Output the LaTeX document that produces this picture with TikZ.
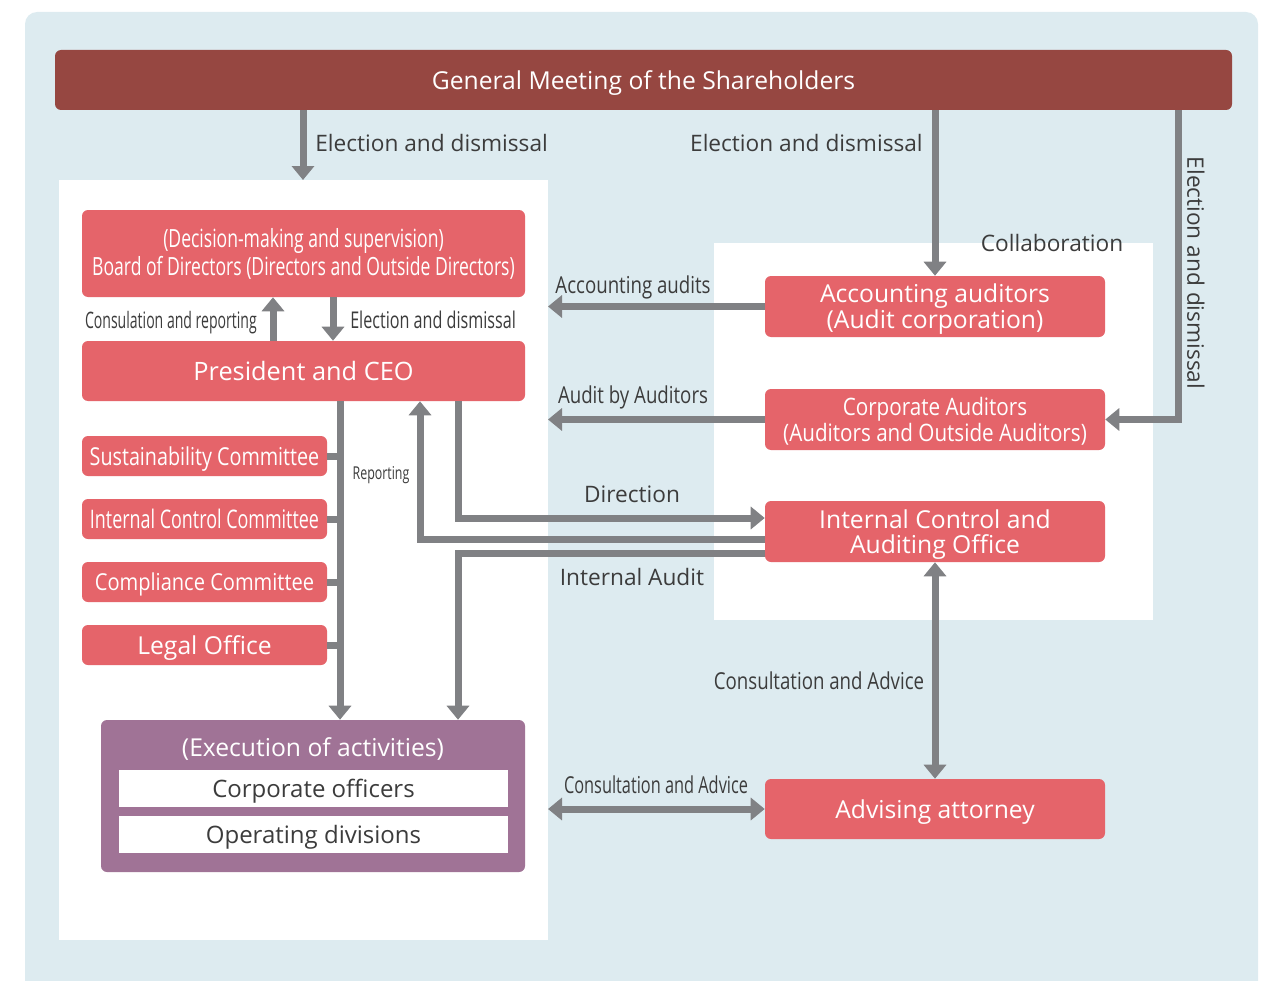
\documentclass[tikz,border=0pt]{standalone}
\usepackage{fontspec}
\setmainfont{Open Sans}
\newfontfamily\narrowfont{Open Sans}[FakeStretch=0.8]
\newfontfamily\midfont{Open Sans}[FakeStretch=0.86]
\newfontfamily\tightfont{Open Sans}[FakeStretch=0.7]
\newfontfamily\condfont{Open Sans}[FakeStretch=0.62]
\usetikzlibrary{arrows.meta}

\definecolor{bgblue}{RGB}{221,235,240}
\definecolor{gmred}{RGB}{150,71,65}
\definecolor{boxred}{RGB}{229,100,106}
\definecolor{execpurple}{RGB}{160,115,150}
\definecolor{arrowgray}{RGB}{128,129,132}
\definecolor{labelgray}{RGB}{60,60,60}

\begin{document}
\begin{tikzpicture}[x=0.75pt,y=0.75pt,yscale=-1,xscale=1,
  redbox/.style={fill=boxred,rounded corners=4.5pt,text=white,inner sep=0pt,align=center,text depth=0pt,
    minimum width=255pt,minimum height=45.75pt,font=\fontsize{18.5}{19.5}\selectfont},
  leftbox/.style={redbox,minimum width=332.25pt,minimum height=45pt},
  cttbox/.style={redbox,minimum width=183.75pt,minimum height=30pt,font=\narrowfont\fontsize{18}{20}\selectfont},
  subbox/.style={fill=white,inner sep=0pt,text depth=0pt,minimum width=291.75pt,minimum height=27.75pt,
    text=labelgray,font=\fontsize{18}{19}\selectfont},
  lbl/.style={text=labelgray,inner sep=0pt,text depth=0pt,font=\fontsize{17}{19}\selectfont},
  nlbl/.style={lbl,font=\narrowfont\fontsize{17.5}{18}\selectfont},
  arr/.style={draw=arrowgray,line width=5.25pt,-{Triangle[width=16.5pt,length=10.5pt]}},
  dblarr/.style={arr,{Triangle[width=16.5pt,length=10.5pt]}-{Triangle[width=16.5pt,length=10.5pt]}},
  stub/.style={draw=arrowgray,line width=5.25pt}
]
\useasboundingbox (0,0) rectangle (1261,981);

%Shape: Background
\fill[bgblue,rounded corners=9pt] (25,12) rectangle (1258,1000);
%Shape: Left panel
\fill[white] (59,180) rectangle (548,940);
%Shape: Right panel
\fill[white] (714,243) rectangle (1153,620);

%Boxes
\node[redbox,fill=gmred,minimum width=882.75pt,minimum height=45pt] (gm) at (643.5,80) {General Meeting of the Shareholders};
\node[leftbox,minimum height=65.25pt,text depth=0.25em,font=\tightfont\fontsize{18.8}{21}\selectfont] (board) at (303.5,253.5) {(Decision-making and supervision)\\Board of Directors (Directors and Outside Directors)};
\node[leftbox,font=\fontsize{19}{20}\selectfont] (ceo) at (303.5,371) {President and CEO};
\node[cttbox,font=\narrowfont\fontsize{18.5}{20}\selectfont] (sus) at (204.5,456) {Sustainability Committee};
\node[cttbox,font=\tightfont\fontsize{19.2}{20}\selectfont] (icc) at (204.5,519) {Internal Control Committee};
\node[cttbox,font=\midfont\fontsize{17.5}{20}\selectfont] (comp) at (204.5,582) {Compliance Committee};
\node[cttbox,font=\fontsize{18.5}{20}\selectfont] (legal) at (204.5,645) {Legal Office};
\node[redbox,fill=execpurple,minimum width=318pt,minimum height=114pt] (exec) at (313,796) {};
\node[text=white,inner sep=0pt,text depth=0pt,font=\fontsize{18.5}{20}\selectfont] (exectitle) at (313,747) {(Execution of activities)};
\node[subbox] (officers) at (313.5,788.5) {Corporate officers};
\node[subbox] (divisions) at (313.5,834.5) {Operating divisions};
\node[redbox] (acc) at (935,306.5) {Accounting auditors\\(Audit corporation)};
\node[redbox,font=\midfont\fontsize{18}{19.5}\selectfont] (cauditor) at (935,419.5) {Corporate Auditors\\(Auditors and Outside Auditors)};
\node[redbox,font=\fontsize{18.5}{19}\selectfont] (icao) at (935,531.5) {Internal Control and\\Auditing Office};
\node[redbox,minimum height=45pt,font=\fontsize{18.5}{20}\selectfont] (attorney) at (935,809) {Advising attorney};

%Coordinates
\coordinate (lp) at (303,180);
\coordinate (pe) at (548,180);
\coordinate (ge) at (1178,110);
\coordinate (cu) at (273,320);
\coordinate (cd) at (333,320);
\coordinate (tr) at (340,420);
\coordinate (rp) at (420,539);
\coordinate (dr) at (458,518);
\coordinate (ia) at (458,553);

%Connectors
\draw[arr] (gm.south -| lp) -- (lp);
\draw[arr] (gm.south -| acc.north) -- (acc.north);
\draw[arr] (gm.south -| ge) |- (cauditor.east);
\draw[arr] (acc.west) -- (acc.west -| pe);
\draw[arr] (cauditor.west) -- (cauditor.west -| pe);
\draw[arr] (ceo.north -| cu) -- (board.south -| cu);
\draw[arr] (board.south -| cd) -- (ceo.north -| cd);
\draw[arr] (ceo.south -| tr) -- (exec.north -| tr);
\draw[stub] (sus.east) -- (sus.east -| tr);
\draw[stub] (icc.east) -- (icc.east -| tr);
\draw[stub] (comp.east) -- (comp.east -| tr);
\draw[stub] (legal.east) -- (legal.east -| tr);
\draw[arr] (icao.west |- rp) -| (ceo.south -| rp);
\draw[arr] (ceo.south -| dr) |- (icao.west |- dr);
\draw[arr] (icao.west |- ia) -| (exec.north -| ia);
\draw[dblarr] (icao.south) -- (attorney.north);
\draw[dblarr] (attorney.west -| pe) -- (attorney.west);

% Text Node
\node[lbl,anchor=west] (l1) at (315,143) {Election and dismissal};
% Text Node
\node[lbl,anchor=east] (l2) at (923,143) {Election and dismissal};
% Text Node
\node[lbl,rotate=-90] (l3) at (1196,273) {Election and dismissal};
% Text Node
\node[lbl] (collab) at (1052,243) {Collaboration};
% Text Node
\node[nlbl] (accl) at (633,285) {Accounting audits};
% Text Node
\node[nlbl] (audl) at (633,395) {Audit by Auditors};
% Text Node
\node[nlbl,anchor=east,font=\condfont\fontsize{17}{18}\selectfont] (consl) at (257,320) {Consulation and reporting};
% Text Node
\node[nlbl,anchor=west,font=\tightfont\fontsize{17.3}{18}\selectfont] (elecl) at (350,320) {Election and dismissal};
% Text Node
\node[nlbl,font=\tightfont\fontsize{13.3}{15}\selectfont] (repl) at (381,473) {Reporting};
% Text Node
\node[lbl] (dirl) at (632,494) {Direction};
% Text Node
\node[lbl] (ial) at (632,577) {Internal Audit};
% Text Node
\node[nlbl] (cadv1) at (819,681) {Consultation and Advice};
% Text Node
\node[nlbl,font=\tightfont\fontsize{17.5}{18}\selectfont] (cadv2) at (656,785) {Consultation and Advice};

\end{tikzpicture}
\end{document}
